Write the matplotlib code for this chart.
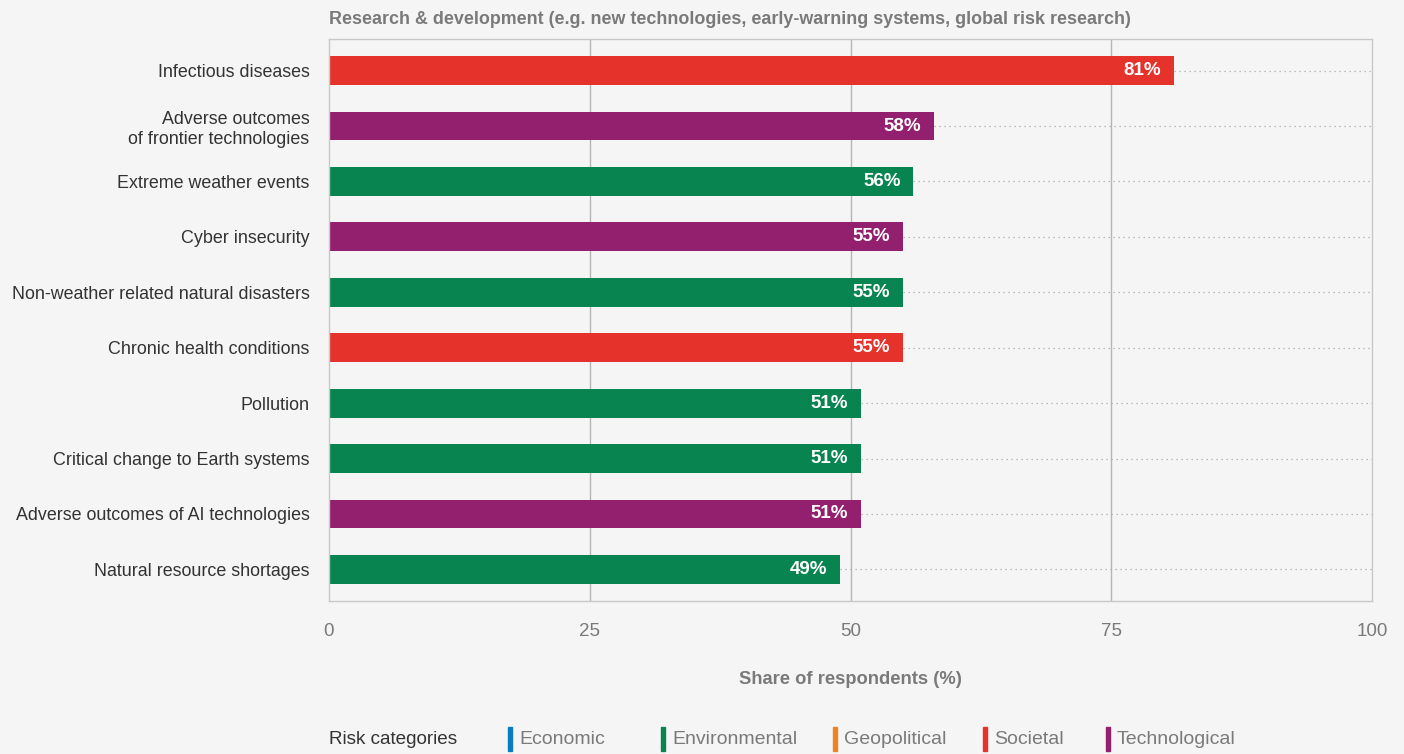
import matplotlib.pyplot as plt
import numpy as np

plt.rcParams['font.family'] = ['Liberation Sans', 'DejaVu Sans']

# data
risks = ['Infectious diseases',
         'Adverse outcomes\nof frontier technologies',
         'Extreme weather events',
         'Cyber insecurity',
         'Non-weather related natural disasters',
         'Chronic health conditions',
         'Pollution',
         'Critical change to Earth systems',
         'Adverse outcomes of AI technologies',
         'Natural resource shortages']
shares = [81, 58, 56, 55, 55, 55, 51, 51, 51, 49]
categories = ['Societal', 'Technological', 'Environmental', 'Technological', 'Environmental',
              'Societal', 'Environmental', 'Environmental', 'Technological', 'Environmental']
legend_names = ['Economic', 'Environmental', 'Geopolitical', 'Societal', 'Technological']
xticks = [0, 25, 50, 75, 100]

cat_colors = {'Economic': '#0B7BC1', 'Environmental': '#07844F', 'Geopolitical': '#EE8326',
              'Societal': '#E5322B', 'Technological': '#93206E'}

bg = '#F5F5F5'
grey = '#7A7A7A'

fig = plt.figure(figsize=(14.04, 7.54), dpi=100, facecolor=bg)
ax = fig.add_axes([329 / 1404, 1 - 601 / 754, (1372 - 329) / 1404, (601 - 39) / 754])
ax.set_facecolor(bg)

y = np.arange(len(risks))
colors = [cat_colors[c] for c in categories]

# dotted guide lines from bar end to the right edge
for yi, v in zip(y, shares):
    ax.plot([v, 100], [yi, yi], linestyle=(0, (1, 3)), color='#AAAAAA', lw=0.9, zorder=1)

for xv in [25, 50, 75]:
    ax.axvline(xv, color='#B5B5B5', lw=1.0, zorder=0)

ax.barh(y, shares, height=0.52, color=colors, zorder=2)

for yi, v in zip(y, shares):
    ax.text(v - 1.2, yi, f'{v}%', ha='right', va='center', color='white',
            fontsize=13.5, fontweight='bold', zorder=3)

ax.set_xlim(0, 100)
ax.set_ylim(9.57, -0.57)
ax.set_xticks(xticks)
ax.set_xticklabels([str(t) for t in xticks])
ax.set_yticks(y)
ax.set_yticklabels(risks, fontsize=12.9, color='#333333', linespacing=1.2)
ax.tick_params(axis='y', length=0, pad=14)
ax.tick_params(axis='x', length=0, pad=16, labelsize=13.5, labelcolor=grey)

for s in ax.spines.values():
    s.set_color('#C8C8C8')
    s.set_linewidth(1.0)

ax.set_xlabel('Share of respondents (%)', fontsize=13.2, fontweight='bold', color=grey, labelpad=22)

fig.text(329 / 1404, 1 - 19 / 754, 'Research & development (e.g. new technologies, early-warning systems, global risk research)',
         fontsize=12.9, fontweight='bold', color=grey, ha='left', va='center')

# legend row
ly = 1 - 739 / 754
fig.text(329 / 1404, ly, 'Risk categories', fontsize=13.6, color='#333333', ha='left', va='center')
legend_x = [508, 661, 833, 983, 1106]
for name, lx in zip(legend_names, legend_x):
    fig.patches.append(plt.Rectangle((lx / 1404, 1 - 751 / 754), 4 / 1404, 24 / 754,
                                     transform=fig.transFigure, color=cat_colors[name]))
    fig.text((lx + 11) / 1404, ly, name, fontsize=14, color=grey, ha='left', va='center')

fig.savefig('out.png', dpi=100, facecolor=bg)
